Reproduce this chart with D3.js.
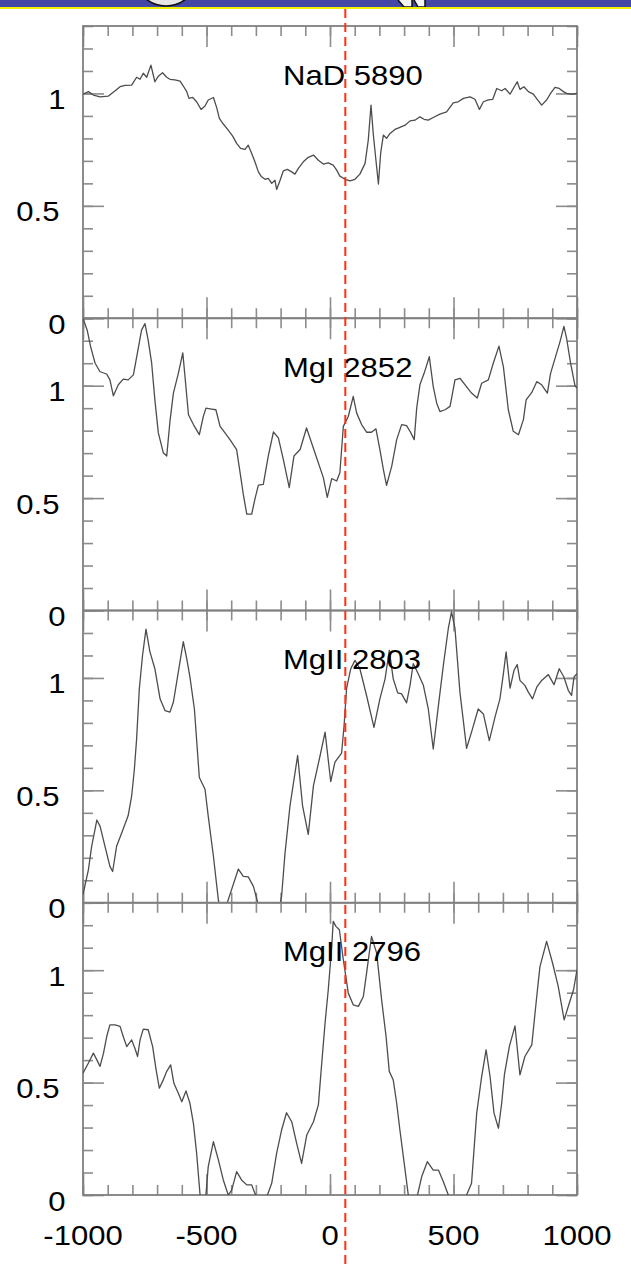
<!DOCTYPE html>
<html><head><meta charset="utf-8">
<script src="https://cdn.jsdelivr.net/npm/d3@7"></script>
<style>html,body{margin:0;padding:0;background:#fff;} svg{display:block}</style>
</head><body><svg id="c" width="631" height="1266"></svg>
<script>
// ---------- data ----------
const velTicks = [-1000, -500, 0, 500, 1000];
const velMinor = d3.range(-1000, 1001, 100);
const fluxTicks = [0, 0.5, 1];
const fluxMinor = d3.range(0, 1.31, 0.1);
const velTickLabels = ["-1000", "-500", "0", "500", "1000"];
const fluxTickLabels = ["0", "0.5", "1"];
const panelLabels = ["NaD 5890", "MgI 2852", "MgII 2803", "MgII 2796"];
const markerVel = 62;

const naV = [-1000,-978,-958,-931,-898,-870,-850,-830,-803,-783,-769,-756,-742,-725,-709,-695,-678,-661,-648,-628,-607,-594,-580,-571,-556,-540,-522,-506,-493,-472,-459,-448,-432,-412,-394,-378,-362,-344,-331,-317,-304,-290,-277,-263,-250,-236,-223,-216,-202,-189,-173,-155,-142,-128,-108,-88,-67,-47,-27,-7,13,27,40,61,81,101,121,142,155,166,175,186,196,205,216,229,243,263,283,304,324,344,364,381,398,418,445,472,499,519,540,567,587,605,621,641,659,675,695,709,729,742,758,769,785,803,823,839,857,877,893,911,928,945,958,978,1000];
const naF = [0.997,1.008,0.993,0.985,0.988,1.012,1.03,1.036,1.037,1.072,1.063,1.09,1.072,1.126,1.052,1.077,1.092,1.072,1.063,1.06,1.055,1.033,1.008,0.978,0.982,0.963,0.929,0.944,0.971,0.982,0.938,0.889,0.864,0.837,0.81,0.778,0.756,0.751,0.77,0.733,0.696,0.651,0.629,0.618,0.622,0.6,0.614,0.573,0.614,0.656,0.662,0.651,0.641,0.667,0.696,0.716,0.726,0.703,0.686,0.691,0.681,0.659,0.632,0.618,0.611,0.618,0.641,0.689,0.793,0.948,0.822,0.703,0.597,0.733,0.815,0.8,0.822,0.84,0.849,0.859,0.878,0.881,0.896,0.885,0.881,0.893,0.908,0.918,0.958,0.963,0.978,0.985,0.974,0.929,0.963,0.971,0.974,1.022,1.012,1.022,0.997,1.022,1.052,1.018,1.03,1.008,0.997,0.974,0.948,0.971,1.0,1.027,1.022,1.008,1.0,0.997,1.0];

const mg1V = [-1000,-983,-969,-951,-931,-904,-891,-877,-857,-837,-817,-796,-780,-763,-749,-736,-722,-709,-695,-675,-661,-648,-634,-614,-596,-587,-573,-553,-529,-513,-502,-479,-462,-445,-425,-405,-378,-364,-351,-337,-317,-304,-290,-270,-250,-229,-209,-189,-165,-146,-121,-95,-61,-27,-11,7,27,40,54,74,94,108,128,148,168,186,202,216,229,250,270,290,310,324,341,351,364,381,402,418,432,445,466,486,506,526,547,573,596,614,641,661,684,702,722,742,763,783,794,817,837,857,880,893,915,931,947,958,974,992,1000];
const mg1F = [1.3,1.247,1.173,1.1,1.062,1.052,1.026,0.955,1.004,1.029,1.026,1.048,1.144,1.247,1.276,1.202,1.1,0.937,0.79,0.702,0.687,0.841,0.967,1.055,1.146,1.04,0.871,0.827,0.782,0.863,0.9,0.896,0.893,0.819,0.79,0.76,0.716,0.613,0.517,0.429,0.429,0.495,0.558,0.561,0.687,0.794,0.768,0.672,0.547,0.687,0.716,0.812,0.702,0.591,0.503,0.587,0.576,0.613,0.819,0.863,0.952,0.878,0.827,0.793,0.793,0.808,0.716,0.628,0.557,0.642,0.76,0.827,0.822,0.797,0.76,0.9,1.004,1.055,1.129,0.996,0.922,0.885,0.893,0.908,1.026,1.033,1.004,0.967,0.945,1.011,1.026,1.1,1.176,1.084,0.893,0.797,0.782,0.849,0.937,0.97,1.018,1.004,0.967,1.055,1.136,1.195,1.264,1.21,1.1,0.999,0.99];

const mg2803V = [-1000,-978,-965,-944,-931,-911,-891,-880,-864,-843,-817,-803,-792,-783,-772,-759,-745,-729,-709,-688,-668,-648,-634,-614,-594,-580,-567,-549,-529,-506,-493,-472,-452,-440,-419,-371,-351,-331,-310,-290,-250,-210,-196,-182,-162,-131,-111,-88,-67,-40,-20,3,20,47,57,67,84,101,121,148,178,202,223,240,256,274,290,310,324,337,357,378,398,418,439,459,479,492,506,526,553,573,600,621,645,668,688,702,713,729,745,758,769,789,803,820,837,857,884,907,928,947,965,978,988,1000];
const mg2803F = [0.036,0.147,0.251,0.368,0.341,0.251,0.162,0.139,0.251,0.311,0.388,0.475,0.594,0.728,0.952,1.1,1.217,1.116,1.041,0.907,0.855,0.848,0.893,1.027,1.161,1.086,1.004,0.862,0.557,0.505,0.385,0.207,0.013,-0.05,-0.01,0.15,0.117,0.115,0.073,-0.01,-0.05,-0.05,0.028,0.222,0.431,0.655,0.431,0.304,0.521,0.655,0.759,0.539,0.626,0.666,0.788,0.952,1.041,1.078,1.041,0.922,0.78,0.907,0.996,1.123,0.996,0.934,0.929,0.889,0.967,1.064,1.019,0.967,0.862,0.684,0.878,1.057,1.22,1.294,1.22,0.937,0.687,0.759,0.862,0.84,0.721,0.826,0.907,1.019,1.116,0.955,1.034,1.059,0.989,0.967,0.937,0.907,0.959,0.989,1.015,0.97,1.041,1.004,0.944,0.922,1.004,1.019];

const mg2796V = [-1000,-978,-958,-944,-931,-917,-904,-891,-870,-850,-837,-823,-803,-790,-779,-769,-756,-736,-718,-704,-691,-675,-661,-645,-632,-614,-600,-583,-567,-553,-540,-526,-506,-493,-472,-452,-432,-412,-398,-378,-358,-337,-317,-304,-270,-236,-216,-196,-176,-155,-135,-115,-94,-67,-47,-34,-20,-7,7,13,24,38,54,74,94,115,135,148,168,189,209,227,240,256,270,283,304,317,344,371,394,418,439,459,479,530,573,594,614,632,648,664,682,695,706,726,749,769,789,817,837,850,877,901,924,948,969,986,1000];
const mg2796F = [0.542,0.587,0.631,0.601,0.572,0.631,0.705,0.757,0.757,0.75,0.705,0.66,0.69,0.653,0.616,0.69,0.738,0.735,0.66,0.557,0.475,0.512,0.55,0.579,0.497,0.453,0.415,0.463,0.408,0.319,0.186,0.0,-0.05,0.126,0.237,0.156,0.067,0.0,0.022,0.104,0.067,0.045,0.045,0.007,-0.05,0.052,0.186,0.289,0.366,0.326,0.23,0.141,0.267,0.326,0.401,0.579,0.765,0.913,1.106,1.217,1.195,1.18,1.046,0.898,0.846,0.839,0.883,0.987,1.15,1.076,0.868,0.705,0.55,0.512,0.408,0.289,0.111,0.0,-0.05,0.081,0.148,0.111,0.111,0.059,0.0,-0.06,0.052,0.364,0.527,0.646,0.527,0.364,0.297,0.408,0.534,0.66,0.752,0.534,0.616,0.668,0.883,1.016,1.128,1.032,0.928,0.779,0.854,0.913,1.002];

const panelVel = [naV, mg1V, mg2803V, mg2796V];
const panelFlux = [naF, mg1F, mg2803F, mg2796F];

// ---------- drawing ----------
const svg = d3.select("#c");
const plotL = 83, plotR = 577, plotT = 26, plotB = 1195;
const ph = (plotB - plotT) / 4;
const x = d3.scaleLinear().domain([-1000, 1000]).range([plotL, plotR]);
const FONT = "'Liberation Sans', Arial, Helvetica, sans-serif";
const axisCol = "#8c8c8c";
const SX = 1.15; // horizontal stretch of the text glyphs

function label(parent, tx, ty, str, anchor) {
  parent.append("g").attr("transform", `translate(${tx},${ty}) scale(${SX},1)`)
    .append("text").attr("x", 0).attr("y", 0).attr("text-anchor", anchor).text(str)
    .attr("fill", "#000").style("font-family", FONT).style("font-size", "27px");
}

// header band (slide fragment)
svg.append("rect").attr("x", 0).attr("y", 0).attr("width", 631).attr("height", 7.5).attr("fill", "#4347a6");
svg.append("rect").attr("x", 0).attr("y", 7).attr("width", 631).attr("height", 2).attr("fill", "#f2f200");
const hdr = svg.append("g");
hdr.append("clipPath").attr("id", "hc").append("rect").attr("x", 0).attr("y", 0).attr("width", 631).attr("height", 7);
hdr.append("ellipse").attr("clip-path", "url(#hc)").attr("cx", 166).attr("cy", -12).attr("rx", 25).attr("ry", 18)
  .attr("fill", "#e6e6e6").attr("stroke", "#111").attr("stroke-width", 1.5);
hdr.append("path").attr("clip-path", "url(#hc)").attr("d", "M398,0 L404,7 L412,7 L412,0 M414,0 L418,7 L425,7 L425,0")
  .attr("fill", "#f4f4f4").attr("stroke", "#111").attr("stroke-width", 1.5);

function tickAxis(g, axis) {
  g.call(axis);
  g.select(".domain").remove();
  g.selectAll(".tick line").attr("stroke", axisCol).attr("stroke-width", 1.6);
}

panelLabels.forEach((lab, i) => {
  const pTop = plotT + i * ph, pBot = plotT + (i + 1) * ph;
  const y = d3.scaleLinear().domain([0, 1.3]).range([pBot, pTop]);
  const g = svg.append("g");

  g.append("clipPath").attr("id", "clip" + i).append("rect")
    .attr("x", plotL).attr("y", pTop).attr("width", plotR - plotL).attr("height", pBot - pTop);

  [[velMinor, 10], [velTicks, 21]].forEach(([vals, len]) => {
    tickAxis(g.append("g").attr("transform", `translate(0,${pBot})`),
      d3.axisBottom(x).tickValues(vals).tickSize(-len).tickFormat(""));
    tickAxis(g.append("g").attr("transform", `translate(0,${pTop})`),
      d3.axisTop(x).tickValues(vals).tickSize(-len).tickFormat(""));
  });
  [[fluxMinor, 10], [fluxTicks, 21]].forEach(([vals, len]) => {
    tickAxis(g.append("g").attr("transform", `translate(${plotL},0)`),
      d3.axisLeft(y).tickValues(vals).tickSize(-len).tickFormat(""));
    tickAxis(g.append("g").attr("transform", `translate(${plotR},0)`),
      d3.axisRight(y).tickValues(vals).tickSize(-len).tickFormat(""));
  });

  g.append("rect").attr("x", plotL).attr("y", pTop).attr("width", plotR - plotL).attr("height", pBot - pTop)
    .attr("fill", "none").attr("stroke", "#808080").attr("stroke-width", 1.8);

  fluxTicks.forEach((v, k) => {
    const s = fluxTickLabels[k];
    label(g, s.length === 1 ? 65.5 : 59.5, y(v) + 15.5, s, "end");
  });

  const pts = d3.zip(panelVel[i], panelFlux[i]);
  g.append("path").datum(pts).attr("clip-path", `url(#clip${i})`)
    .attr("d", d3.line().x(d => x(d[0])).y(d => y(d[1])))
    .attr("fill", "none").attr("stroke", "#4d4d4d").attr("stroke-width", 1.3).attr("stroke-linejoin", "round");

  label(g, 283, pTop + 58.5, lab, "start");
});

velTicks.forEach((v, k) => label(svg, x(v), plotB + 50, velTickLabels[k], "middle"));

svg.append("line").attr("x1", x(markerVel)).attr("x2", x(markerVel)).attr("y1", 9).attr("y2", 1266)
  .attr("stroke", "#ff3010").attr("stroke-width", 2).attr("stroke-dasharray", "9,5");
</script></body></html>
